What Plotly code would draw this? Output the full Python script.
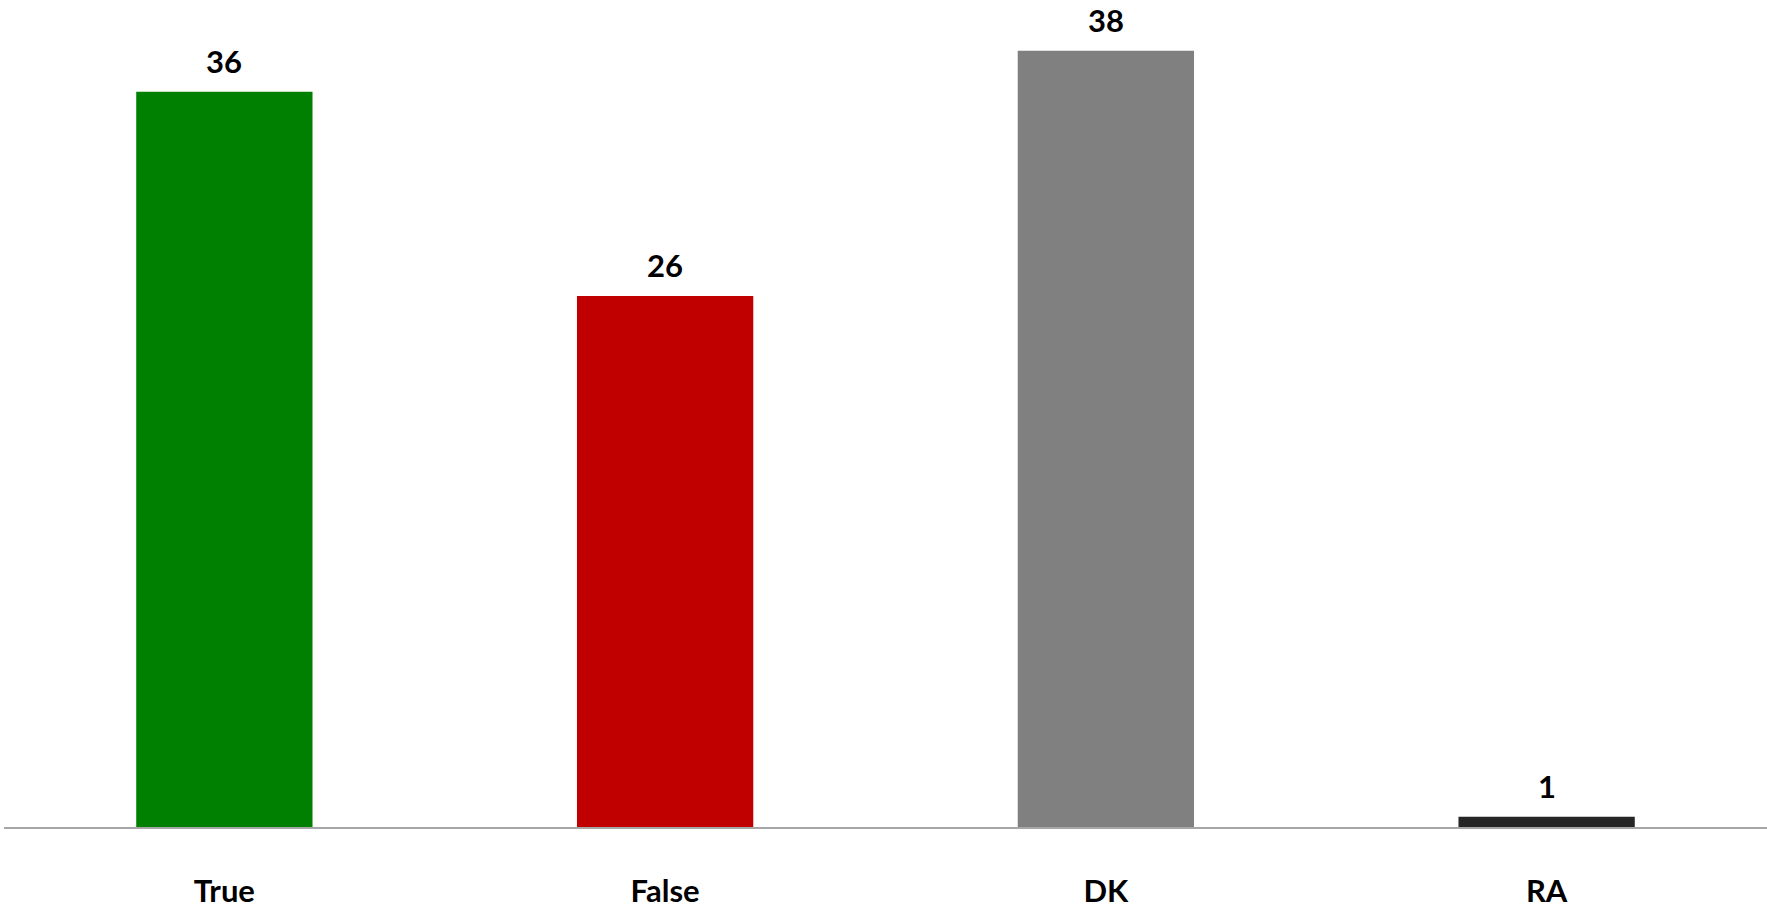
import plotly.graph_objects as go

categories = ["True", "False", "DK", "RA"]
values = [36, 26, 38, 0.5]
value_labels = ["36", "26", "38", "1"]
colors = ["#008000", "#C00000", "#808080", "#262626"]

FONT = "Lato"

fig = go.Figure()
fig.add_trace(go.Bar(
    x=categories,
    y=values,
    marker=dict(color=colors, line=dict(width=0)),
    width=0.4,
    hoverinfo="skip",
))

for c, v, t in zip(categories, values, value_labels):
    fig.add_annotation(
        x=c, y=v, text="<b>%s</b>" % t, showarrow=False,
        yanchor="bottom", yshift=10,
        font=dict(family=FONT, size=31, color="#000000"),
    )

fig.update_layout(
    width=1767, height=909,
    margin=dict(l=4, r=0, t=10, b=79),
    paper_bgcolor="white", plot_bgcolor="white",
    showlegend=False,
    bargap=0.6,
)
fig.update_xaxes(
    showgrid=False, zeroline=False,
    showline=True, linecolor="#a6a6a6", linewidth=1.5,
    ticks="", ticklabelstandoff=36,
    tickfont=dict(family=FONT, size=31, color="#000000"),
    tickvals=categories, ticktext=["<b>%s</b>" % c for c in categories],
)
fig.update_yaxes(
    range=[0, 40], visible=False, showgrid=False, zeroline=False,
)

fig.write_html(
    "out.html",
    config={"displayModeBar": False},
    post_script="document.body.style.margin='0';document.body.style.overflow='hidden';",
)
